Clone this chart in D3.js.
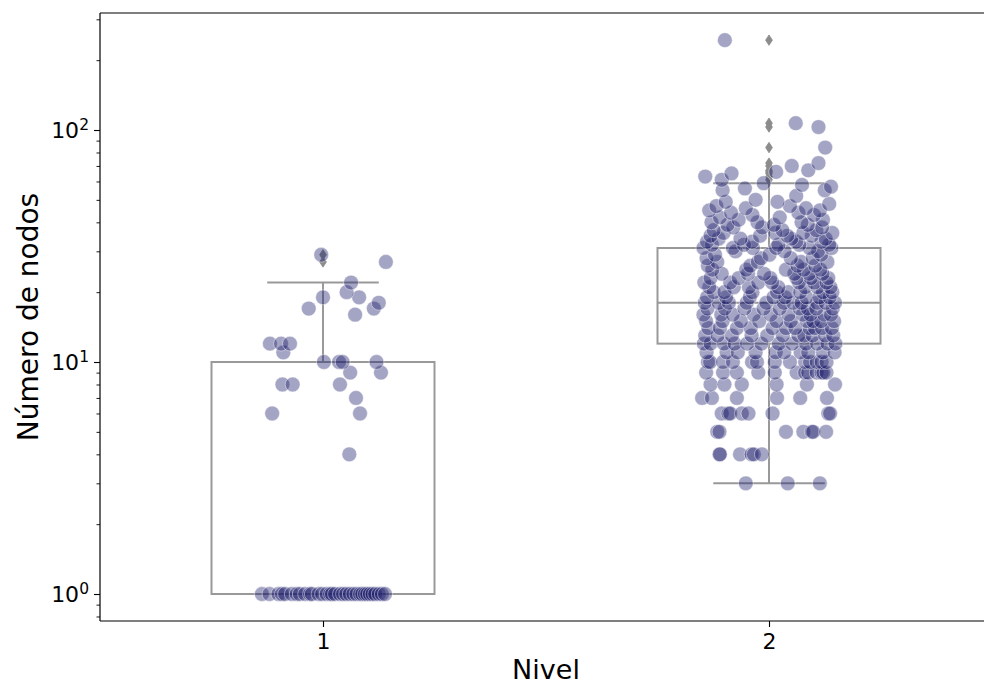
<!DOCTYPE html>
<html>
<head>
<meta charset="utf-8">
<script src="https://cdn.jsdelivr.net/npm/d3@7"></script>
<style>
  html, body { margin: 0; padding: 0; background: #fff; }
  svg { display: block; font-family: "DejaVu Sans", sans-serif; }
</style>
</head>
<body>
<svg id="chart" width="984" height="686"></svg>
<script>
// Categories on the x axis
const niveles = ["1", "2"];

// Major ticks on the log y axis (drawn as 10^k)
const yMajorTicks = [1, 10, 100];

// Nivel 1: [número de nodos, jitter of each observation (in category units)]
const nivel1 = [
  [1, [-0.137, -0.120, -0.100, -0.092, -0.085, -0.070, -0.059, -0.052, -0.040, -0.029, -0.025,
       -0.010, -0.002, 0.008, 0.016, 0.020, 0.027, 0.038, 0.045, 0.052, 0.060, 0.068, 0.075,
       0.083, 0.088, 0.094, 0.099, 0.105, 0.111, 0.117, 0.125, 0.132, 0.139]],
  [4, [0.059]],
  [6, [-0.114, 0.083]],
  [7, [0.074]],
  [8, [-0.091, -0.068, 0.038]],
  [9, [0.061, 0.130]],
  [10, [0.002, 0.036, 0.044, 0.120]],
  [11, [-0.089]],
  [12, [-0.119, -0.094, -0.074]],
  [16, [0.072]],
  [17, [-0.032, 0.114]],
  [18, [0.125]],
  [19, [0.000, 0.081]],
  [20, [0.053]],
  [22, [0.063]],
  [27, [0.141]],
  [29, [-0.004]]
];

// Nivel 2: [número de nodos, jitter of each observation (in category units)]
const nivel2 = [
  [3, [-0.052, 0.042, 0.114]],
  [4, [-0.111, -0.110, -0.065, -0.039, -0.034, -0.016]],
  [5, [-0.116, -0.111, 0.038, 0.077, 0.096, 0.099, 0.128]],
  [6, [-0.106, -0.091, -0.087, -0.061, -0.046, 0.008, 0.133, 0.137]],
  [7, [-0.150, -0.128, -0.072, 0.018, 0.070, 0.130]],
  [8, [-0.131, -0.100, -0.061, 0.017, 0.085, 0.148]],
  [9, [-0.141, -0.103, -0.072, -0.024, 0.013, 0.062, 0.081, 0.088, 0.107, 0.118, 0.122, 0.129]],
  [10, [-0.137, -0.132, -0.103, -0.081, -0.038, -0.027, 0.013, 0.047, 0.081, 0.092, 0.107, 0.118, 0.129]],
  [11, [-0.140, -0.095, -0.070, -0.030, 0.015, 0.034, 0.071, 0.088, 0.121, 0.147]],
  [12, [-0.146, -0.131, -0.101, -0.077, -0.049, -0.017, 0.022, 0.052, 0.083, 0.108, 0.131, 0.149]],
  [13, [-0.143, -0.115, -0.083, -0.039, -0.004, 0.031, 0.066, 0.079, 0.098, 0.126, 0.144]],
  [14, [-0.136, -0.110, -0.072, -0.041, 0.008, 0.038, 0.059, 0.091, 0.103, 0.119, 0.141]],
  [15, [-0.141, -0.104, -0.063, -0.022, 0.017, 0.049, 0.085, 0.099, 0.117, 0.146]],
  [16, [-0.147, -0.107, -0.081, -0.034, 0.004, 0.044, 0.076, 0.093, 0.124, 0.139]],
  [17, [-0.138, -0.099, -0.055, -0.012, 0.024, 0.069, 0.087, 0.106, 0.143]],
  [18, [-0.144, -0.113, -0.090, -0.050, -0.006, 0.033, 0.054, 0.073, 0.108, 0.127, 0.148]],
  [19, [-0.139, -0.096, -0.043, 0.010, 0.036, 0.084, 0.113, 0.136]],
  [20, [-0.124, -0.100, -0.037, 0.018, 0.043, 0.070, 0.121, 0.142]],
  [21, [-0.134, -0.079, -0.045, 0.021, 0.081, 0.109, 0.138]],
  [22, [-0.145, -0.087, -0.024, 0.007, 0.067, 0.101, 0.129]],
  [23, [-0.131, -0.068, 0.003, 0.062, 0.094, 0.133]],
  [24, [-0.106, -0.047, -0.011, 0.057, 0.090, 0.120]],
  [25, [-0.127, -0.051, 0.038, 0.078, 0.115]],
  [26, [-0.137, -0.042, 0.064, 0.104]],
  [27, [-0.116, -0.025, 0.072, 0.131]],
  [28, [-0.140, -0.018, 0.049, 0.098]],
  [29, [-0.121, 0.001, 0.117]],
  [30, [-0.075, 0.035, 0.110]],
  [31, [-0.147, -0.081, -0.036, 0.016, 0.091, 0.140]],
  [32, [-0.128, -0.056, 0.021, 0.068, 0.135]],
  [33, [-0.139, -0.038, 0.061, 0.118]],
  [34, [-0.113, -0.064, 0.050, 0.127]],
  [35, [-0.131, -0.020, 0.041, 0.096]],
  [36, [-0.102, 0.014, 0.077, 0.142]],
  [37, [-0.124, 0.030, 0.106]],
  [38, [-0.080, -0.015, 0.119]],
  [39, [-0.093, 0.011, 0.087]],
  [40, [-0.129, -0.026, 0.073]],
  [41, [-0.068, 0.121]],
  [42, [-0.110, 0.024]],
  [43, [-0.037, 0.101]],
  [44, [-0.085, 0.066]],
  [45, [-0.134, 0.114]],
  [46, [-0.052, 0.083]],
  [47, [-0.118, 0.047]],
  [48, [0.135]],
  [49, [-0.097, 0.019]],
  [50, [-0.030]],
  [52, [0.061]],
  [55, [-0.104, 0.125]],
  [56, [-0.054]],
  [57, [0.139]],
  [58, [0.074]],
  [59, [-0.012]],
  [61, [-0.106]],
  [63, [-0.143]],
  [65, [-0.084]],
  [66, [0.016]],
  [67, [0.088]],
  [70, [0.051]],
  [72, [0.111]],
  [84, [0.126]],
  [103, [0.111]],
  [107, [0.060]],
  [244, [-0.099]]
];

// ---- layout ----
const svg = d3.select("#chart");
const plot = { left: 100, right: 992, top: 13, bottom: 621 };

const x = d3.scaleLinear().domain([-0.5, niveles.length - 0.5]).range([plot.left, plot.right]);
const y = d3.scaleLog().domain([0.765, 319.4]).range([plot.bottom, plot.top]);

svg.append("defs").append("clipPath").attr("id", "plotclip")
  .append("rect").attr("x", plot.left).attr("y", plot.top)
  .attr("width", plot.right - plot.left).attr("height", plot.bottom - plot.top);

// expand the grouped tables into single observations
function expand(table, catIndex) {
  const out = [];
  table.forEach(([v, jit]) => jit.forEach(j => out.push({ cat: catIndex, value: v, jitter: j })));
  return out;
}
const groups = [expand(nivel1, 0), expand(nivel2, 1)];

// box statistics (linear-interpolated quartiles, 1.5·IQR whiskers)
function boxStats(points) {
  const vals = points.map(d => d.value).sort(d3.ascending);
  const q1 = d3.quantileSorted(vals, 0.25);
  const med = d3.quantileSorted(vals, 0.5);
  const q3 = d3.quantileSorted(vals, 0.75);
  const iqr = q3 - q1;
  const hiFence = q3 + 1.5 * iqr, loFence = q1 - 1.5 * iqr;
  const inside = vals.filter(v => v >= loFence && v <= hiFence);
  return {
    q1, med, q3,
    lo: d3.min(inside), hi: d3.max(inside),
    fliers: vals.filter(v => v < loFence || v > hiFence)
  };
}

const boxColor = "#999999";
const flierColor = "#8c8c8c";
const boxW = 0.5;

const gBoxes = svg.append("g").attr("clip-path", "url(#plotclip)");
groups.forEach((pts, i) => {
  const s = boxStats(pts);
  const g = gBoxes.append("g");
  // whiskers
  g.append("line").attr("x1", x(i)).attr("x2", x(i)).attr("y1", y(s.q3)).attr("y2", y(s.hi))
    .attr("stroke", boxColor).attr("stroke-width", 2);
  g.append("line").attr("x1", x(i)).attr("x2", x(i)).attr("y1", y(s.q1)).attr("y2", y(s.lo))
    .attr("stroke", boxColor).attr("stroke-width", 2);
  // caps
  [s.hi, s.lo].forEach(v => {
    g.append("line").attr("x1", x(i - boxW / 4)).attr("x2", x(i + boxW / 4))
      .attr("y1", y(v)).attr("y2", y(v)).attr("stroke", boxColor).attr("stroke-width", 2);
  });
  // box
  g.append("rect").attr("x", x(i - boxW / 2)).attr("y", y(s.q3))
    .attr("width", x(i + boxW / 2) - x(i - boxW / 2)).attr("height", y(s.q1) - y(s.q3))
    .attr("fill", "white").attr("stroke", boxColor).attr("stroke-width", 2);
  // median
  g.append("line").attr("x1", x(i - boxW / 2)).attr("x2", x(i + boxW / 2))
    .attr("y1", y(s.med)).attr("y2", y(s.med)).attr("stroke", boxColor).attr("stroke-width", 2);
  // fliers as thin diamonds
  g.selectAll("path.flier").data(s.fliers).join("path").attr("class", "flier")
    .attr("transform", v => `translate(${x(i)},${y(v)})`)
    .attr("d", "M0,-5.2L3.4,0L0,5.2L-3.4,0Z")
    .attr("fill", flierColor).attr("stroke", flierColor).attr("stroke-width", 0.8);
});

// jittered observations
const gPts = svg.append("g").attr("clip-path", "url(#plotclip)");
groups.forEach(pts => {
  gPts.selectAll(null).data(pts).join("circle")
    .attr("cx", d => x(d.cat + d.jitter))
    .attr("cy", d => y(d.value))
    .attr("r", 7.4)
    .attr("fill", "#1c1c6b").attr("fill-opacity", 0.4)
    .attr("stroke", "#ffffff").attr("stroke-opacity", 0.45).attr("stroke-width", 1);
});

// ---- axes ----
const axisColor = "#000";

// y minor ticks
const minorTicks = [];
[0.1, 1, 10, 100].forEach(b => {
  for (let k = 2; k <= 9; k++) {
    const v = b * k;
    if (v >= y.domain()[0] && v <= y.domain()[1]) minorTicks.push(v);
  }
});
svg.append("g").attr("transform", `translate(${plot.left},0)`)
  .call(d3.axisLeft(y).tickValues(minorTicks).tickSize(3.5).tickFormat(""))
  .call(g => g.select(".domain").remove())
  .call(g => g.selectAll("line").attr("stroke", axisColor).attr("stroke-width", 0.9));

const yAxisG = svg.append("g").attr("transform", `translate(${plot.left},0)`)
  .call(d3.axisLeft(y).tickValues(yMajorTicks).tickSize(6).tickPadding(5).tickFormat(""))
  .call(g => g.select(".domain").remove())
  .call(g => g.selectAll("line").attr("stroke", axisColor).attr("stroke-width", 1.1));

yAxisG.selectAll(".tick text").each(function (d) {
  const t = d3.select(this);
  t.text(null).attr("font-size", 22).attr("fill", "#000").attr("font-family", "DejaVu Sans")
    .attr("dy", "0.36em");
  t.append("tspan").text("10");
  t.append("tspan").attr("dy", "-0.55em").attr("font-size", 15.5).text(String(Math.round(Math.log10(d))));
});

// x axis
svg.append("g").attr("transform", `translate(0,${plot.bottom})`)
  .call(d3.axisBottom(x).tickValues(niveles.map((_, i) => i)).tickSize(6).tickPadding(6)
    .tickFormat(i => niveles[i]))
  .call(g => g.select(".domain").remove())
  .call(g => g.selectAll("line").attr("stroke", axisColor).attr("stroke-width", 1.1))
  .call(g => g.selectAll("text").attr("font-size", 22).attr("fill", "#000")
    .attr("font-family", "DejaVu Sans"));

// spines
const spine = svg.append("g").attr("stroke", axisColor).attr("stroke-width", 1.2).attr("fill", "none");
spine.append("line").attr("x1", plot.left).attr("x2", plot.left).attr("y1", plot.top).attr("y2", plot.bottom);
spine.append("line").attr("x1", plot.left).attr("x2", plot.right).attr("y1", plot.bottom).attr("y2", plot.bottom);
spine.append("line").attr("x1", plot.left).attr("x2", plot.right).attr("y1", plot.top).attr("y2", plot.top);
spine.append("line").attr("x1", plot.right).attr("x2", plot.right).attr("y1", plot.top).attr("y2", plot.bottom);

// axis titles
svg.append("text").attr("x", (plot.left + plot.right) / 2).attr("y", 679)
  .attr("text-anchor", "middle").attr("font-size", 27).attr("fill", "#000").text("Nivel");
svg.append("text").attr("transform", `translate(38,${(plot.top + plot.bottom) / 2}) rotate(-90)`)
  .attr("text-anchor", "middle").attr("font-size", 28).attr("fill", "#000").text("Número de nodos");
</script>
</body>
</html>
